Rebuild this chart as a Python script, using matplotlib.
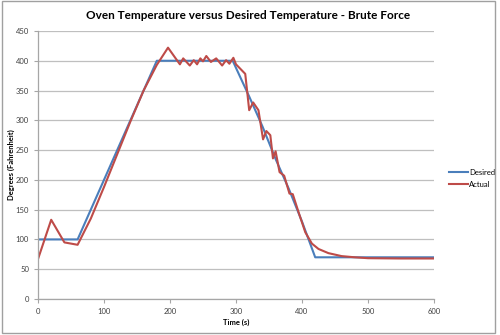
import matplotlib
matplotlib.use("Agg")
import matplotlib.pyplot as plt
from matplotlib.patches import Rectangle

plt.rcParams['font.family'] = ['Lato', 'DejaVu Sans']

# Desired temperature profile
desired_t = [0, 20, 40, 60, 80, 100, 120, 140, 160, 180, 200, 220, 240, 260, 280, 295,
             320, 340, 360, 380, 400, 420, 440, 460, 480, 500, 520, 540, 560, 580, 600]
desired_y = [100, 100, 100, 100, 150, 200, 250, 300, 350, 400, 400, 400, 400, 400, 400, 400,
             340, 290, 235, 185, 130, 70, 70, 70, 70, 70, 70, 70, 70, 70, 70]

# Actual oven temperature
actual_t = [0, 20, 40, 60, 80, 100, 120, 140, 160, 180, 197, 215, 220, 230, 236, 241,
            246, 250, 255, 262, 270, 279, 285, 290, 296, 300, 314, 320, 326, 334, 341,
            346, 352, 356, 360, 366, 373, 381, 386, 395, 405, 415, 425, 440, 460, 480,
            500, 550, 600]
actual_y = [67, 133, 95, 91, 135, 188, 243, 298, 350, 393, 422, 394, 404, 392, 401, 394,
            404, 399, 408, 398, 404, 392, 401, 395, 405, 394, 378, 317, 330, 317, 268,
            282, 275, 236, 248, 213, 207, 177, 176, 145, 112, 93, 84, 77, 72, 70,
            68.5, 68, 68]

fig = plt.figure(figsize=(5, 3.35), dpi=100)
ax = fig.add_axes([0.076, 0.1075, 0.792, 0.8])

ax.plot(desired_t, desired_y, color='#4A7EBB', lw=1.5, label='Desired')
ax.plot(actual_t, actual_y, color='#BE4B48', lw=1.5, label='Actual')

ax.set_xlim(0, 600)
ax.set_ylim(0, 450)
ax.set_xticks(range(0, 601, 100))
ax.set_yticks(range(0, 451, 50))
ax.yaxis.grid(True, color='#bfbfbf', lw=0.9)
ax.set_axisbelow(True)
for s in ['top', 'right']:
    ax.spines[s].set_visible(False)
for s in ['left', 'bottom']:
    ax.spines[s].set_color('#a6a6a6')
    ax.spines[s].set_linewidth(0.9)
ax.tick_params(colors='#a6a6a6', labelcolor='#404040', labelsize=5.5, length=3, width=0.8)

ax.set_xlabel('Time (s)', fontsize=5.5, fontweight='bold', labelpad=3)
ax.set_ylabel('Degrees (Fahrenheit)', fontsize=5.5, fontweight='bold')
ax.yaxis.set_label_coords(-0.058, 0.5)
fig.text(0.496, 0.955, 'Oven Temperature versus Desired Temperature - Brute Force',
         ha='center', va='center', fontsize=8.5, fontweight='bold')

ax.legend(loc='center left', bbox_to_anchor=(1.02, 0.45), frameon=False,
          fontsize=5.5, handlelength=2.5, handletextpad=0.2, labelspacing=0.6)

fig.patches.append(Rectangle((0.004, 0.006), 0.986, 0.99, transform=fig.transFigure,
                             fill=False, edgecolor='#a0a0a0', lw=1))

fig.savefig('out.png', dpi=100)
